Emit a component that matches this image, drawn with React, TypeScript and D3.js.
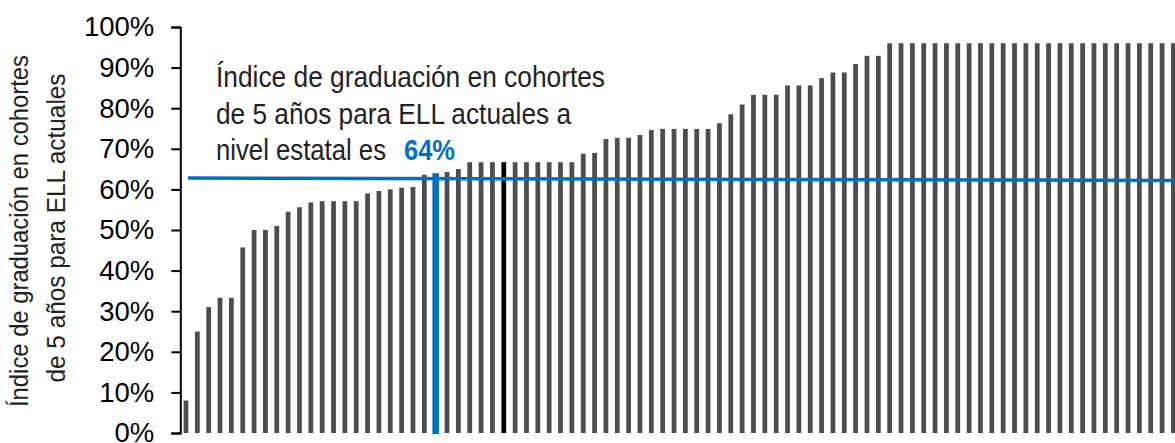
import React, { useEffect, useRef } from 'react';
import * as d3 from 'd3';

// graduation rate (%) per district, sorted ascending
const rates = [
  8, 25, 31, 33.3, 33.3, 45.7, 50, 50, 51, 54.5,
  55.6, 56.8, 57.1, 57.1, 57.1, 57.1, 59, 59.6, 60, 60.4,
  60.6, 63.6, 64, 64.3, 65, 66.7, 66.7, 66.7, 66.7, 66.7,
  66.7, 66.7, 66.7, 66.7, 66.7, 68.8, 69, 72.4, 72.7, 72.7,
  73.4, 74.6, 74.9, 74.9, 74.9, 74.9, 74.9, 76.3, 78.5, 80.9,
  83.3, 83.3, 83.3, 85.6, 85.6, 85.6, 87.4, 88.8, 88.8, 90.9,
  92.9, 92.9, 96, 96, 96, 96, 96, 96, 96, 96,
  96, 96, 96, 96, 96, 96, 96, 96, 96, 96,
  96, 96, 96, 96, 96, 96, 96, 96,
];
const stateIndex = 22; // blue bar (state level)
const markedIndex = 28; // black bar
const stateLine = [62.8, 62.2]; // horizontal reference line, left/right end
const yTicks = [0, 10, 20, 30, 40, 50, 60, 70, 80, 90, 100];
const yTitle = ['Índice de graduación en cohortes', 'de 5 años para ELL actuales'];
const noteLines = ['Índice de graduación en cohortes', 'de 5 años para ELL actuales a', 'nivel estatal es'];
const noteValue = '64%';

const App = () => {
  const svgRef = useRef<SVGSVGElement>(null);

  useEffect(() => {
    const w = 1175;
    const h = 443;
    const svg = d3.select(svgRef.current).attr('width', w).attr('height', h);
    svg.selectAll('*').remove();

    const narrow = '"Liberation Sans Narrow", "Arial Narrow", "Liberation Sans", Arial, sans-serif';
    const x0 = 180.3;
    const step = 11.35;

    const x = d3.scaleBand<number>()
      .domain(d3.range(rates.length))
      .range([x0, x0 + step * rates.length])
      .paddingInner(0.58)
      .paddingOuter(0.29);

    const y = d3.scaleLinear().domain([0, 100]).range([433, 27]);

    // bars
    svg.append('g')
      .selectAll('rect')
      .data(rates)
      .join('rect')
      .attr('x', (d, i) => (i === stateIndex ? x(i)! + x.bandwidth() / 2 - 3.3 : x(i)!))
      .attr('width', (d, i) => (i === stateIndex ? 6.6 : x.bandwidth()))
      .attr('y', d => y(d))
      .attr('height', (d, i) => y(0) - y(d) + (i === stateIndex ? 1 : 0))
      .attr('fill', (d, i) => (i === stateIndex ? '#0070C0' : i === markedIndex ? '#000' : '#4d4d4d'));

    // state reference line
    svg.append('line')
      .attr('x1', x(0)! + 4.5)
      .attr('x2', w)
      .attr('y1', y(stateLine[0]))
      .attr('y2', y(stateLine[1]))
      .attr('stroke', '#0070C0')
      .attr('stroke-width', 3.5);

    // y axis
    const yAxis = d3.axisLeft(y)
      .tickValues(yTicks)
      .tickFormat(d => `${d}%`)
      .tickSize(9)
      .tickPadding(17);

    const ag = svg.append('g')
      .attr('transform', `translate(${x0},0)`)
      .call(yAxis);
    ag.select('.domain').attr('stroke', '#000').attr('stroke-width', 2);
    ag.selectAll('.tick line').attr('stroke', '#000').attr('stroke-width', 2);
    ag.selectAll('.tick text')
      .attr('fill', '#000')
      .style('font-family', '"Liberation Sans", Arial, sans-serif')
      .style('font-size', '27.5px');

    // y axis title
    const titleX = [28, 65];
    const titleLen = [352, 309];
    yTitle.forEach((t, i) => {
      svg.append('text')
        .attr('transform', `translate(${titleX[i]},${i === 0 ? 231 : 228}) rotate(-90)`)
        .attr('text-anchor', 'middle')
        .attr('textLength', titleLen[i])
        .attr('lengthAdjust', 'spacingAndGlyphs')
        .style('font-family', narrow)
        .style('font-size', '25px')
        .attr('fill', '#222')
        .text(t);
    });

    // annotation
    const noteLen = [389, 355, 170];
    const noteY = [87, 124, 160];
    noteLines.forEach((t, i) => {
      svg.append('text')
        .attr('x', 216)
        .attr('y', noteY[i])
        .attr('textLength', noteLen[i])
        .attr('lengthAdjust', 'spacingAndGlyphs')
        .style('font-family', narrow)
        .style('font-size', '29px')
        .attr('fill', '#222')
        .text(t);
    });
    svg.append('text')
      .attr('x', 404)
      .attr('y', 160)
      .attr('textLength', 51)
      .attr('lengthAdjust', 'spacingAndGlyphs')
      .style('font-family', narrow)
      .style('font-size', '29px')
      .style('font-weight', 'bold')
      .attr('fill', '#0070C0')
      .text(noteValue);
  }, []);

  return (
    <div style={{ position: 'absolute', left: 0, top: 0 }}>
      <svg ref={svgRef} style={{ display: 'block', background: '#fff' }}></svg>
    </div>
  );
};

export default App;
